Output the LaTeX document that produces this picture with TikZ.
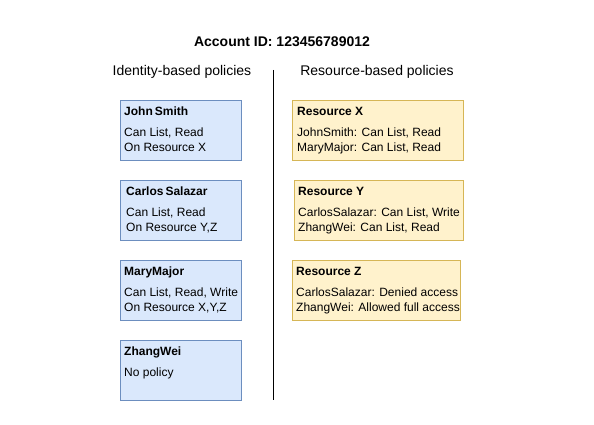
\documentclass[tikz,border=0pt]{standalone}
\usepackage{fontspec}
\setmainfont{Liberation Sans}
\usepackage{xcolor}
\usetikzlibrary{positioning}

\definecolor{idfill}{HTML}{DAE8FC}
\definecolor{iddraw}{HTML}{6C8EBF}
\definecolor{resfill}{HTML}{FFF2CC}
\definecolor{resdraw}{HTML}{D6B656}

\begin{document}
\begin{tikzpicture}[
    x=1pt, y=-1pt,
    idbox/.style={draw=iddraw, fill=idfill, line width=0.8pt, minimum height=60pt, anchor=north west, inner sep=0pt},
    resbox/.style={draw=resdraw, fill=resfill, line width=0.8pt, minimum height=60pt, anchor=north west, inner sep=0pt},
    txt/.style={anchor=north west, align=left, inner sep=0pt, font=\fontsize{12}{15}\selectfont},
    heading/.style={inner sep=0pt, font=\fontsize{14}{16}\selectfont}
]
\useasboundingbox (0,0) rectangle (594,425);

% Title and column headings
\node[heading, font=\fontsize{14}{16}\selectfont\bfseries] (acct) at (282,42) {Account ID: 123456789012};
\node[heading] (idhead) at (182,72) {Identity-based policies};
\node[heading] (reshead) at (377,72) {Resource-based policies};

% Divider
\coordinate (divtop) at (273,70);
\coordinate (divbot) at (273,400);
\draw[line width=0.8pt] (divtop) -- (divbot);

% Identity-based policies
\node[idbox, minimum width=121pt] (john) at (120,100) {};
\node[txt] (johntxt) at ([shift={(4,7)}]john.north west) {\textbf{John\,Smith}\\[6pt]Can List, Read\\On Resource X};

\node[idbox, minimum width=121pt] (carlos) at (120,180) {};
\node[txt] (carlostxt) at ([shift={(6,7)}]carlos.north west) {\textbf{Carlos\,Salazar}\\[6pt]Can List, Read\\On Resource Y,Z};

\node[idbox, minimum width=121pt] (mary) at (120,260) {};
\node[txt] (marytxt) at ([shift={(4,7)}]mary.north west) {\textbf{MaryMajor}\\[6pt]Can List, Read, Write\\On Resource X,Y,Z};

\node[idbox, minimum width=121pt] (zhang) at (120,340) {};
\node[txt] (zhangtxt) at ([shift={(4,7)}]zhang.north west) {\textbf{ZhangWei}\\[6pt]No policy};

% Resource-based policies
\node[resbox, minimum width=171pt] (resx) at (292,100) {};
\node[txt] (resxtxt) at ([shift={(5,7)}]resx.north west) {\textbf{Resource X}\\[6pt]JohnSmith: Can List, Read\\MaryMajor: Can List, Read};

\node[resbox, minimum width=169pt] (resy) at (294,180) {};
\node[txt] (resytxt) at ([shift={(4,7)}]resy.north west) {\textbf{Resource Y}\\[6pt]CarlosSalazar: Can List, Write\\ZhangWei: Can List, Read};

\node[resbox, minimum width=168pt] (resz) at (292,260) {};
\node[txt] (resztxt) at ([shift={(4,7)}]resz.north west) {\textbf{Resource Z}\\[6pt]CarlosSalazar: Denied access\\ZhangWei: Allowed full access};

\end{tikzpicture}
\end{document}
